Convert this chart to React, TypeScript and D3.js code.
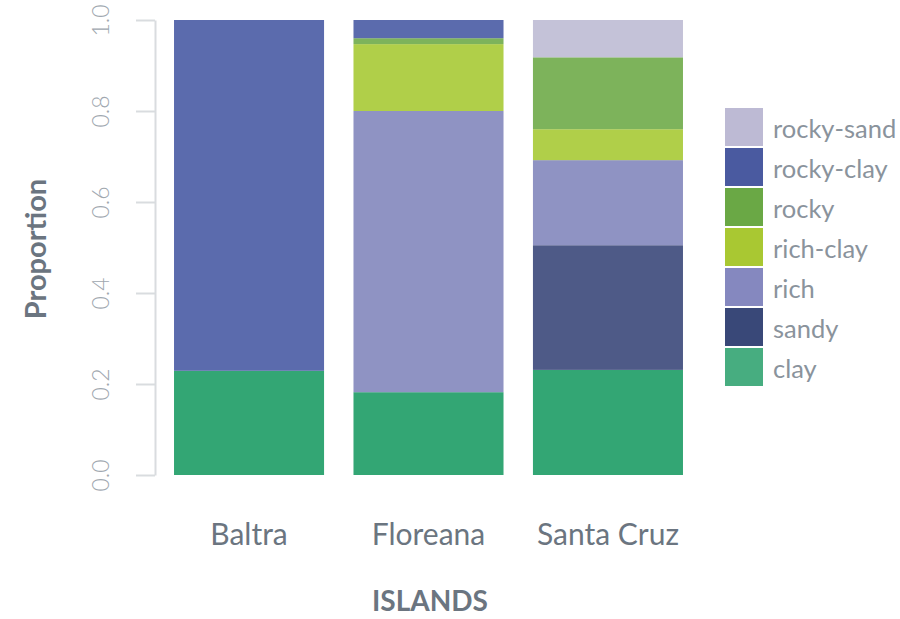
import React, { useRef, useEffect } from 'react';
import * as d3 from 'd3';

const islands = ['Baltra', 'Floreana', 'Santa Cruz'];
const soils = ['clay', 'sandy', 'rich', 'rich-clay', 'rocky', 'rocky-clay', 'rocky-sand'];
const clay = [0.229, 0.182, 0.231];
const sandy = [0, 0, 0.274];
const rich = [0, 0.618, 0.187];
const richClay = [0, 0.147, 0.068];
const rocky = [0, 0.013, 0.158];
const rockyClay = [0.771, 0.04, 0];
const rockySand = [0, 0, 0.082];
const yTicks = [0, 0.2, 0.4, 0.6, 0.8, 1.0];

const barColors = ['#33a674', '#4e5a87', '#8f93c3', '#b0cf49', '#7db35b', '#5b6bad', '#c4c2d8'];
const legendColors = ['#47ad80', '#394878', '#8588bf', '#a9c832', '#6aa845', '#4a5aa0', '#bdbad4'];

const App = () => {
    const ref = useRef(null);

    useEffect(() => {
        const svg = d3.select(ref.current);
        svg.selectAll('*').remove();

        const series = [clay, sandy, rich, richClay, rocky, rockyClay, rockySand];
        const rows = islands.map((isl, i) => {
            const r: any = { island: isl };
            soils.forEach((s, k) => { r[s] = series[k][i]; });
            return r;
        });
        const stacked = d3.stack().keys(soils)(rows);

        const x = d3.scaleBand().domain(islands).range([155, 702])
            .paddingInner(0.164).paddingOuter(0.106);
        const y = d3.scaleLinear().domain([0, 1]).range([475, 20]);
        const font = 'Lato, "Open Sans", sans-serif';

        // y axis
        const ya = svg.append('g').attr('transform', 'translate(155,0)')
            .call(d3.axisLeft(y).tickValues(yTicks).tickFormat(d3.format('.1f')).tickSize(19).tickSizeOuter(0));
        ya.select('.domain').attr('stroke', '#d9dcdf').attr('stroke-width', 2);
        ya.selectAll('.tick line').attr('stroke', '#d9dcdf').attr('stroke-width', 2);
        ya.selectAll('.tick text')
            .attr('x', 0).attr('dy', 0)
            .attr('transform', 'translate(-55,0) rotate(-90)')
            .attr('text-anchor', 'middle')
            .attr('dominant-baseline', 'central')
            .attr('fill', '#a0a7af')
            .style('font-family', font).style('font-size', '23px').style('font-weight', 300);

        // bars
        svg.append('g').selectAll('g').data(stacked).join('g')
            .attr('fill', (d, i) => barColors[i])
            .selectAll('rect').data(d => d).join('rect')
            .attr('x', d => x(d.data.island))
            .attr('width', x.bandwidth())
            .attr('y', d => y(d[1]))
            .attr('height', d => y(d[0]) - y(d[1]));

        // x labels
        svg.append('g').selectAll('text').data(islands).join('text')
            .attr('x', d => x(d) + x.bandwidth() / 2)
            .attr('y', 545)
            .attr('text-anchor', 'middle')
            .attr('fill', '#6b7580')
            .style('font-family', font).style('font-size', '30px')
            .text(d => d);

        svg.append('text').attr('x', 430).attr('y', 611)
            .attr('text-anchor', 'middle').attr('fill', '#6b7580')
            .style('font-family', font).style('font-size', '28px').style('font-weight', 700)
            .text('ISLANDS');

        svg.append('text').attr('transform', 'translate(46,249) rotate(-90)')
            .attr('text-anchor', 'middle').attr('fill', '#6b7580')
            .style('font-family', font).style('font-size', '29px').style('font-weight', 700)
            .text('Proportion');

        // legend, top is rocky-sand
        const leg = soils.slice().reverse();
        const lg = svg.append('g').selectAll('g').data(leg).join('g')
            .attr('transform', (d, i) => `translate(725,${108 + i * 40})`);
        lg.append('rect').attr('width', 38).attr('height', 38)
            .attr('fill', d => legendColors[soils.indexOf(d)]);
        lg.append('text').attr('x', 48).attr('y', 20)
            .attr('dominant-baseline', 'central')
            .attr('fill', '#8a939c')
            .style('font-family', font).style('font-size', '25.5px')
            .text(d => d);
    }, []);

    return <svg ref={ref} width={900} height={619} style={{ position: 'absolute', left: 0, top: 0 }}></svg>;
};

export default App;
